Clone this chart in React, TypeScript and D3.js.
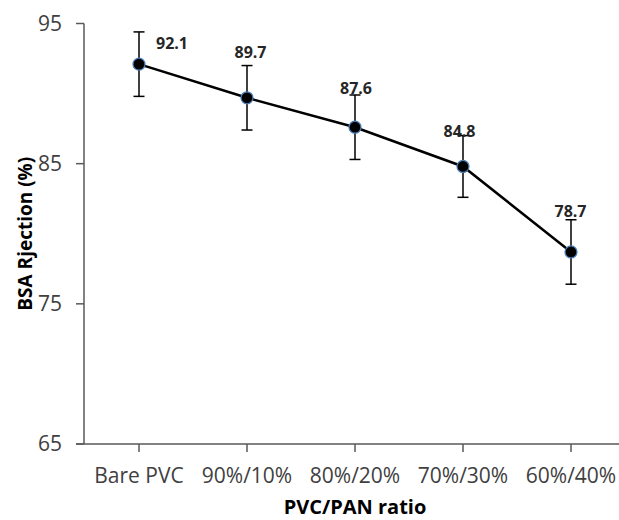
import React from 'react';
import * as d3 from 'd3';

const categories = ['Bare PVC', '90%/10%', '80%/20%', '70%/30%', '60%/40%'];
const rejection = [92.1, 89.7, 87.6, 84.8, 78.7];
const errors = [2.3, 2.3, 2.3, 2.2, 2.3];
const yTicks = [65, 75, 85, 95];
const labelOffsets = [
  [33, -15],
  [3.5, -39.5],
  [1, -33.3],
  [-3.5, -29],
  [-0.5, -35],
];

const W = 619;
const H = 520;
const FONT = "'Open Sans', 'Noto Sans', sans-serif";

export default function App() {
  const y = d3.scaleLinear().domain([65, 95]).range([444, 23.5]);
  const x = d3.scaleBand().domain(categories).range([85, 625]);
  const cx = (c: string) => (x(c) as number) + x.bandwidth() / 2;
  const pts = categories.map((c, i) => [cx(c), y(rejection[i])] as [number, number]);
  const line = d3.line()(pts) as string;
  const axisColor = '#595959';
  return (
    <svg width={W} height={H} style={{ position: 'absolute', left: 0, top: 0, background: '#fff' }}>
      {/* y axis */}
      <line x1={84} x2={84} y1={y(95)} y2={y(65)} stroke={axisColor} strokeWidth={1.5} />
      {yTicks.map((t) => (
        <g key={t}>
          <line x1={76} x2={84} y1={y(t)} y2={y(t)} stroke={axisColor} strokeWidth={1.5} />
          <text x={62} y={y(t)} dy="0.35em" textAnchor="end" fontFamily={FONT} fontSize={21} fill="#404040">
            {t}
          </text>
        </g>
      ))}
      {/* x axis */}
      <line x1={76} x2={625} y1={y(65)} y2={y(65)} stroke={axisColor} strokeWidth={1.5} />
      {categories.map((c) => (
        <g key={c}>
          <line x1={cx(c)} x2={cx(c)} y1={y(65)} y2={y(65) + 8} stroke={axisColor} strokeWidth={1.5} />
          <text x={cx(c)} y={483} textAnchor="middle" fontFamily={FONT} fontSize={21} fill="#404040">
            {c}
          </text>
        </g>
      ))}
      {/* titles */}
      <text x={355} y={514} textAnchor="middle" fontFamily={FONT} fontSize={20} fontWeight="bold" fill="#000">
        PVC/PAN ratio
      </text>
      <text
        transform={`translate(32, ${(y(95) + y(65)) / 2}) rotate(-90)`}
        textAnchor="middle"
        fontFamily={FONT}
        fontSize={19}
        fontWeight="bold"
        fill="#000"
      >
        BSA Rjection (%)
      </text>
      {/* error bars */}
      {categories.map((c, i) => {
        const xc = cx(c);
        const top = y(rejection[i] + errors[i]);
        const bot = y(rejection[i] - errors[i]);
        return (
          <g key={'e' + c} stroke="#000" strokeWidth={1.5}>
            <line x1={xc} x2={xc} y1={top} y2={bot} />
            <line x1={xc - 5.5} x2={xc + 5.5} y1={top} y2={top} />
            <line x1={xc - 5.5} x2={xc + 5.5} y1={bot} y2={bot} />
          </g>
        );
      })}
      {/* line */}
      <path d={line} fill="none" stroke="#000" strokeWidth={2.5} />
      {/* markers */}
      {pts.map((p, i) => (
        <circle key={'m' + i} cx={p[0]} cy={p[1]} r={6} fill="#000" stroke="#4a7ebb" strokeWidth={1.2} />
      ))}
      {/* labels */}
      {pts.map((p, i) => (
        <text
          key={'l' + i}
          x={p[0] + labelOffsets[i][0]}
          y={p[1] + labelOffsets[i][1]}
          textAnchor="middle"
          fontFamily={FONT}
          fontSize={16}
          fontWeight="bold"
          fill="#262626"
        >
          {rejection[i].toFixed(1)}
        </text>
      ))}
    </svg>
  );
}
